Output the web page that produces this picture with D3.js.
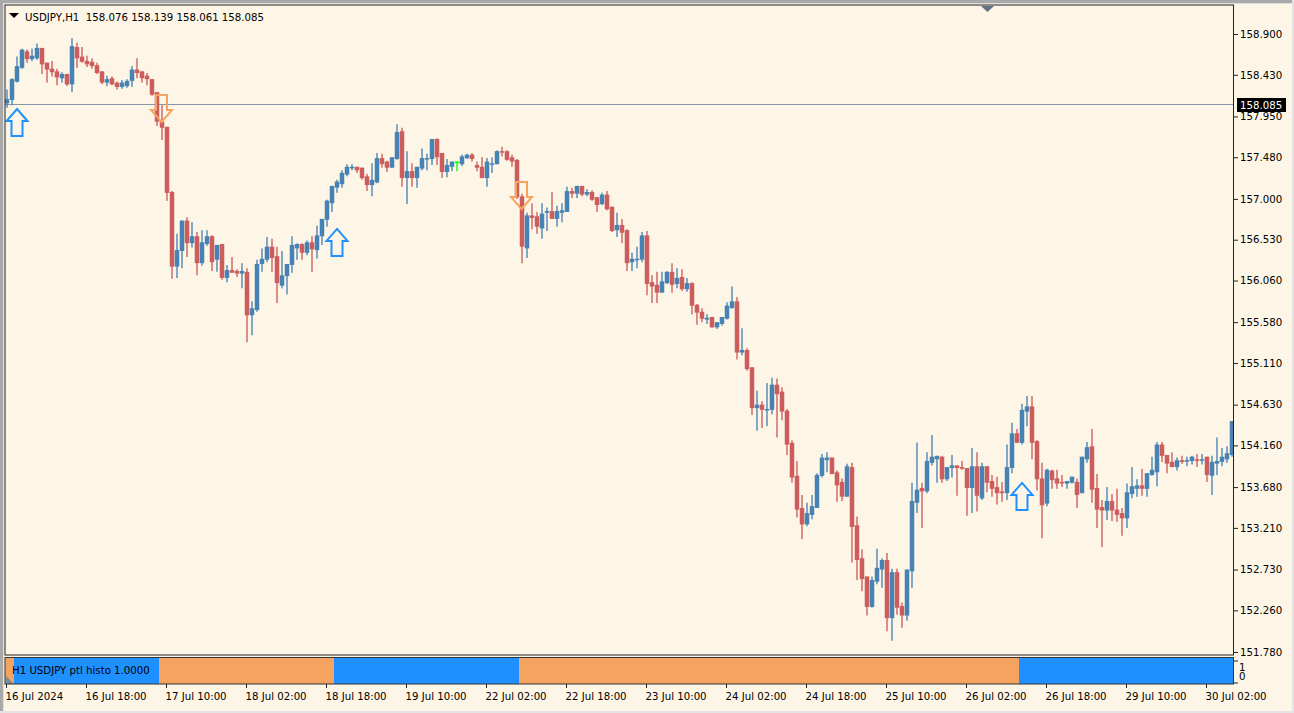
<!DOCTYPE html>
<html><head><meta charset="utf-8">
<script src="https://cdn.jsdelivr.net/npm/d3@7"></script>
<style>html,body{margin:0;padding:0;background:#fdf5e6;overflow:hidden}svg{display:block}text{font-family:"DejaVu Sans",sans-serif;font-size:10.2px;fill:#000}</style>
</head><body><div id="c"></div>
<script>
const symbolTitle="USDJPY,H1  158.076 158.139 158.061 158.085";
const bidPrice=158.085;
const histoTitle="H1 USDJPY ptl histo 1.0000";
const priceTicks=[158.9,158.43,157.95,157.48,157,156.53,156.06,155.58,155.11,154.63,154.16,153.68,153.21,152.73,152.26,151.78];
const timeLabels=["16 Jul 2024","16 Jul 18:00","17 Jul 10:00","18 Jul 02:00","18 Jul 18:00","19 Jul 10:00","22 Jul 02:00","22 Jul 18:00","23 Jul 10:00","24 Jul 02:00","24 Jul 18:00","25 Jul 10:00","26 Jul 02:00","26 Jul 18:00","29 Jul 10:00","30 Jul 02:00"];
const opens=[
158.10,158.14,158.35,158.51,158.70,158.61,158.62,158.74,158.57,158.50,
158.47,158.39,158.44,158.32,158.75,158.64,158.59,158.58,158.54,158.47,
158.34,158.39,158.34,158.29,158.30,158.36,158.49,158.47,158.42,158.38,
158.23,157.89,157.83,157.08,156.22,156.40,156.75,156.49,156.57,156.26,
156.48,156.57,156.30,156.48,156.09,156.18,156.17,156.14,156.16,155.66,
155.72,156.25,156.30,156.45,156.34,156.00,156.11,156.24,156.43,156.48,
156.38,156.50,156.41,156.57,156.76,156.95,157.13,157.17,157.28,157.36,
157.37,157.36,157.26,157.16,157.19,157.47,157.43,157.36,157.46,157.78,
157.24,157.32,157.24,157.35,157.46,157.46,157.69,157.53,157.31,157.37,
157.42,157.40,157.47,157.51,157.39,157.37,157.24,157.40,157.40,157.55,
157.55,157.48,157.45,157.03,156.43,156.81,156.80,156.66,156.84,156.86,
156.77,156.84,156.85,157.09,157.06,157.15,157.05,157.08,157.02,156.94,
157.05,156.91,156.64,156.70,156.64,156.27,156.30,156.30,156.58,156.04,
156.01,155.92,156.03,156.16,156.02,156.10,155.96,156.03,155.78,155.70,
155.61,155.64,155.52,155.56,155.62,155.74,155.82,155.23,155.26,155.06,
154.59,154.63,154.57,154.57,154.86,154.78,154.56,154.19,153.81,153.44,
153.25,153.36,153.44,153.81,153.99,154.02,153.85,153.74,153.57,153.91,
153.24,152.86,152.65,152.30,152.59,152.73,152.84,152.17,152.70,152.31,
152.20,152.71,153.50,153.67,153.63,153.96,154.00,154.03,153.77,153.90,
153.93,153.91,153.90,153.67,153.92,153.55,153.92,153.75,153.68,153.63,
153.61,153.90,154.30,154.19,154.55,154.61,154.21,153.78,153.49,153.87,
153.78,153.74,153.72,153.73,153.74,153.61,154.00,154.15,153.67,153.45,
153.41,153.52,153.42,153.38,153.32,153.60,153.66,153.70,153.66,153.82,
153.85,154.17,154.05,153.97,153.91,153.99,153.98,153.98,154.00,153.99,
154.03,153.81,153.95,153.97,154.00,154.05];
const closes=[
158.15,158.38,158.53,158.72,158.61,158.65,158.74,158.55,158.49,158.46,
158.40,158.44,158.32,158.76,158.62,158.58,158.55,158.53,158.45,158.34,
158.38,158.32,158.29,158.34,158.36,158.49,158.45,158.39,158.38,158.20,
157.89,157.82,157.07,156.22,156.41,156.75,156.49,156.57,156.26,156.50,
156.57,156.27,156.47,156.09,156.18,156.15,156.14,156.17,155.66,155.74,
156.25,156.31,156.45,156.32,156.03,156.12,156.25,156.47,156.48,156.38,
156.50,156.42,156.58,156.77,156.98,157.15,157.20,157.30,157.37,157.37,
157.33,157.24,157.16,157.22,157.47,157.40,157.36,157.48,157.77,157.24,
157.32,157.24,157.37,157.47,157.47,157.69,157.48,157.31,157.39,157.43,
157.43,157.49,157.51,157.46,157.36,157.24,157.43,157.41,157.55,157.54,
157.45,157.43,157.02,156.45,156.81,156.78,156.68,156.83,156.86,156.77,
156.86,156.87,157.09,157.06,157.15,157.05,157.08,156.99,156.93,157.05,
156.88,156.63,156.70,156.61,156.26,156.31,156.31,156.58,156.02,155.99,
155.92,156.05,156.16,156.01,156.09,155.96,156.03,155.77,155.69,155.62,
155.63,155.52,155.58,155.64,155.77,155.82,155.23,155.26,155.04,154.59,
154.63,154.57,154.58,154.86,154.75,154.55,154.17,153.79,153.42,153.25,
153.38,153.46,153.82,154.02,154.02,153.83,153.70,153.57,153.92,153.22,
152.84,152.62,152.30,152.61,152.75,152.84,152.17,152.70,152.29,152.20,
152.73,153.52,153.65,153.63,153.98,154.03,154.04,153.77,153.91,153.93,
153.90,153.89,153.67,153.92,153.58,153.92,153.73,153.66,153.61,153.61,
153.91,154.30,154.19,154.57,154.61,154.19,153.77,153.47,153.88,153.76,
153.72,153.73,153.75,153.80,153.59,154.03,154.14,153.65,153.42,153.41,
153.52,153.41,153.36,153.32,153.62,153.69,153.70,153.66,153.84,153.88,
154.17,154.04,153.95,153.91,153.99,153.97,153.99,154.03,153.99,154.00,
153.82,153.97,153.98,154.03,154.07,154.44];
const highs=[
158.26,158.39,158.64,158.73,158.72,158.73,158.79,158.74,158.57,158.59,
158.50,158.46,158.44,158.85,158.80,158.75,158.65,158.62,158.57,158.47,
158.42,158.41,158.35,158.37,158.38,158.53,158.62,158.47,158.45,158.38,
158.23,158.08,157.83,157.09,156.60,156.75,156.79,156.73,156.62,156.64,
156.64,156.58,156.47,156.48,156.24,156.33,156.19,156.26,156.20,155.82,
156.30,156.43,156.56,156.54,156.45,156.40,156.25,156.57,156.49,156.49,
156.52,156.57,156.69,156.77,156.99,157.15,157.22,157.33,157.40,157.40,
157.37,157.36,157.29,157.41,157.53,157.52,157.44,157.48,157.86,157.82,
157.55,157.41,157.37,157.58,157.52,157.69,157.70,157.53,157.46,157.43,
157.43,157.51,157.52,157.53,157.43,157.48,157.47,157.48,157.56,157.60,
157.56,157.51,157.46,157.06,156.84,156.95,156.85,156.95,156.90,157.08,
156.92,156.95,157.14,157.13,157.15,157.15,157.11,157.10,157.02,157.07,
157.09,156.91,156.84,156.77,156.65,156.38,156.45,156.62,156.63,156.12,
156.16,156.16,156.17,156.26,156.20,156.19,156.09,156.04,155.79,155.74,
155.67,155.64,155.58,155.64,155.81,155.99,155.87,155.51,155.28,155.06,
154.79,154.67,154.88,154.94,154.93,154.83,154.58,154.22,153.98,153.59,
153.50,153.59,153.84,154.06,154.08,154.02,153.87,153.78,153.95,153.96,
153.34,152.96,152.65,152.65,152.97,152.86,152.92,152.74,152.74,152.35,
152.73,153.73,154.19,153.73,154.08,154.28,154.04,154.04,153.91,154.05,
153.93,153.98,153.90,154.13,154.08,153.96,153.92,153.82,153.80,153.74,
154.17,154.42,154.35,154.64,154.73,154.73,154.22,153.96,153.89,153.88,
153.88,153.82,153.75,153.80,153.78,154.03,154.20,154.35,153.83,153.53,
153.68,153.60,153.66,153.44,153.72,153.91,153.77,153.89,153.84,154.03,
154.20,154.20,154.05,154.08,154.02,154.04,154.03,154.04,154.06,154.06,
154.03,154.04,154.25,154.13,154.15,154.44];
const lows=[
158.05,158.08,158.34,158.50,158.57,158.59,158.60,158.44,158.34,158.41,
158.31,158.34,158.30,158.23,158.51,158.57,158.52,158.50,158.44,158.32,
158.30,158.31,158.26,158.27,158.28,158.29,158.39,158.34,158.31,158.19,
157.84,157.68,156.98,156.08,156.09,156.20,156.33,156.44,156.12,156.23,
156.46,156.17,156.16,156.07,156.04,156.15,156.10,155.97,155.35,155.43,
155.70,156.16,156.27,156.16,155.80,155.97,155.90,156.15,156.30,156.30,
156.35,156.16,156.31,156.47,156.68,156.85,157.07,157.13,157.26,157.33,
157.30,157.22,157.09,157.03,157.18,157.36,157.31,157.36,157.45,157.14,
156.94,157.14,157.13,157.33,157.33,157.39,157.39,157.24,157.25,157.32,
157.32,157.38,157.46,157.43,157.32,157.24,157.14,157.30,157.40,157.49,
157.44,157.37,157.00,156.26,156.32,156.65,156.60,156.54,156.63,156.77,
156.68,156.73,156.85,157.01,157.01,157.03,157.03,156.98,156.85,156.93,
156.87,156.62,156.56,156.49,156.17,156.17,156.20,156.27,155.89,155.80,
155.80,155.92,156.02,155.92,155.97,155.94,155.93,155.67,155.55,155.58,
155.56,155.52,155.50,155.54,155.61,155.74,155.15,155.20,155.02,154.51,
154.33,154.36,154.38,154.52,154.25,154.45,154.05,153.73,153.33,153.08,
153.23,153.31,153.44,153.79,153.85,153.83,153.51,153.52,153.57,152.81,
152.61,152.48,152.20,152.29,152.56,152.52,152.02,151.91,152.21,152.06,
152.14,152.52,153.38,153.21,153.61,153.93,153.73,153.73,153.75,153.79,
153.58,153.88,153.35,153.38,153.40,153.53,153.62,153.57,153.48,153.51,
153.53,153.84,154.19,154.17,154.38,154.00,153.64,153.09,153.46,153.66,
153.66,153.68,153.66,153.72,153.44,153.61,153.96,153.50,153.21,152.99,
153.30,153.29,153.28,153.12,153.21,153.55,153.57,153.58,153.57,153.81,
153.69,153.97,153.84,153.91,153.87,153.95,153.92,153.94,153.91,153.94,
153.74,153.59,153.82,153.92,153.96,154.03];
const dojiGreenBars=[90];
const arrowBars=[2,31,66,103,203];
const arrowDirs=[1,-1,1,-1,1];
const arrowTips=[158.036,157.886,156.654,156.884,153.728];
const signalStarts=[0,2,31,66,103,203];
const signalDirs=[-1,1,-1,1,-1,1];

const W=1294,H=713,BLUE="#4682b4",RED="#cd5c5c",UPC="#1e90ff",DNC="#f4a460",BG="#fdf5e6";
const FONT='"DejaVu Sans",sans-serif';
const n=opens.length;
const x=d3.scaleLinear().domain([0,n-1]).range([7,1232]);
const py=d3.scaleLinear().domain([158.9,151.78]).range([34,652]);
const svg=d3.select("#c").append("svg").attr("width",W).attr("height",H);
svg.append("rect").attr("width",W).attr("height",H).attr("fill",BG);
// window chrome
svg.append("rect").attr("width",W).attr("height",3).attr("fill","#a9a9a9");
svg.append("rect").attr("width",3).attr("height",H).attr("fill","#a9a9a9");
svg.append("rect").attr("x",3).attr("y",3).attr("width",W).attr("height",1).attr("fill","#e0e0e0");
svg.append("rect").attr("x",3).attr("width",1).attr("y",3).attr("height",H).attr("fill","#e0e0e0");
svg.append("rect").attr("y",H-2).attr("width",W).attr("height",2).attr("fill","#e4e4e4");
svg.append("rect").attr("x",W-2).attr("width",2).attr("height",H).attr("fill","#e4e4e4");
svg.append("defs").append("clipPath").attr("id","clip").append("rect").attr("x",5).attr("y",5).attr("width",1228).attr("height",650);
const chart=svg.append("g").attr("clip-path","url(#clip)");
const idx=d3.range(n);
const col=i=>dojiGreenBars.includes(i)?"#00ff00":(closes[i]>=opens[i]?BLUE:RED);
const bidY=Math.floor(py(bidPrice))+.5;
chart.append("line").attr("x1",5).attr("x2",1233).attr("y1",bidY).attr("y2",bidY).attr("stroke","#8797a8").attr("stroke-width",1.2);
chart.selectAll("line.w").data(idx).join("line").attr("class","w")
 .attr("x1",x).attr("x2",x).attr("y1",i=>py(highs[i])).attr("y2",i=>py(lows[i]))
 .attr("stroke",col).attr("stroke-width",1.6).attr("stroke-opacity",.85);
chart.selectAll("rect.b").data(idx).join("rect").attr("class","b")
 .attr("x",i=>x(i)-2.25).attr("width",4.5)
 .attr("y",i=>py(Math.max(opens[i],closes[i])))
 .attr("height",i=>Math.max(1.5,Math.abs(py(opens[i])-py(closes[i]))))
 .attr("fill",col);
// arrows
function arrowPath(cx,tip,dir){const p=d3.path();const s=dir;
 p.moveTo(cx,tip);p.lineTo(cx+10.5,tip+s*12);p.lineTo(cx+5.5,tip+s*12);p.lineTo(cx+5.5,tip+s*27);
 p.lineTo(cx-5.5,tip+s*27);p.lineTo(cx-5.5,tip+s*12);p.lineTo(cx-10.5,tip+s*12);p.closePath();return p.toString();}
chart.selectAll("path.a").data(arrowBars).join("path").attr("class","a")
 .attr("d",(b,k)=>arrowPath(x(b)-(arrowDirs[k]<0?.5:0),py(arrowTips[k]),arrowDirs[k]))
 .attr("fill","none").attr("stroke",(b,k)=>arrowDirs[k]>0?UPC:DNC).attr("stroke-width",2);
// frames
svg.append("rect").attr("x",5).attr("y",5).attr("width",1228.5).attr("height",650).attr("fill","none").attr("stroke","#222");
// histogram
const bw=x(1)-x(0);
const segStart=s=>Math.max(5,x(s)-bw/2-.5);
svg.append("g").selectAll("rect").data(signalStarts).join("rect")
 .attr("x",s=>segStart(s))
 .attr("width",(s,k)=>(k+1<signalStarts.length?segStart(signalStarts[k+1]):1233.5)-segStart(s))
 .attr("y",658).attr("height",26)
 .attr("fill",(s,k)=>signalDirs[k]>0?UPC:DNC);
svg.append("path").attr("d","M6 676 L6 684 L14 684 Z").attr("fill","#7f8b96");
svg.append("rect").attr("x",5).attr("y",657.5).attr("width",1228.5).attr("height",26.5).attr("fill","none").attr("stroke","#333");
svg.append("text").attr("x",12).attr("y",674).text(histoTitle);
// title
svg.append("path").attr("d","M9 13 L19 13 L14 18 Z").attr("fill","#000");
svg.append("text").attr("x",25).attr("y",20.5).attr("xml:space","preserve").text(symbolTitle);
// chart shift marker
svg.append("path").attr("d","M981 6 L994 6 L987.5 12 Z").attr("fill","#5f7183");
// price axis
const pa=svg.append("g").attr("transform","translate(1234,0)").call(d3.axisRight(py).tickValues(priceTicks).tickSize(4).tickPadding(2).tickFormat(d3.format(".3f")));
pa.select(".domain").remove();
pa.selectAll("line").attr("stroke","#222");
pa.selectAll("text").attr("fill","#000").style("font-size","10.2px").style("font-family",FONT);
svg.append("rect").attr("x",1237).attr("y",98).attr("width",49).attr("height",14).attr("fill","#000");
svg.append("text").attr("x",1240).attr("y",109).style("fill","#fff").text(d3.format(".3f")(bidPrice));
// sub axis
const histoAxis=d3.scaleLinear().domain([1,0]).range([667,676]);
svg.selectAll("text.h").data([1,0]).join("text").attr("class","h").attr("x",1239).attr("y",v=>histoAxis(v)+4).text(v=>v);
svg.selectAll("line.h").data([661,683]).join("line").attr("class","h").attr("x1",1234).attr("x2",1238).attr("y1",v=>v).attr("y2",v=>v).attr("stroke","#222");
// time axis
const tickBars=timeLabels.map((_,k)=>k*16);
const ta=svg.append("g").attr("transform","translate(0,684)").call(d3.axisBottom(x).tickValues(tickBars).tickSize(4).tickPadding(5).tickFormat((d,k)=>timeLabels[k]));
ta.select(".domain").remove();
ta.selectAll("line").attr("stroke","#222").attr("transform","translate(-1,0)");
ta.selectAll("text").attr("text-anchor","start").attr("fill","#000").attr("dx",-2).style("font-size","10.2px").style("font-family",FONT);
</script></body></html>
